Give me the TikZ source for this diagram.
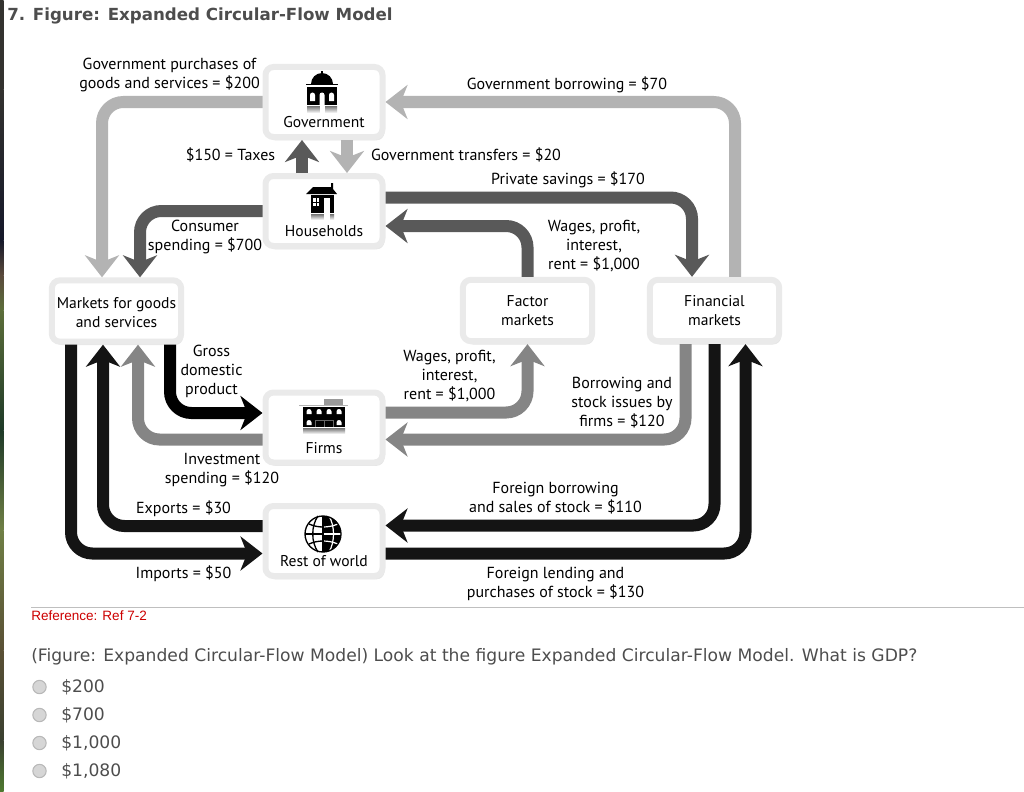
\documentclass[tikz,border=0pt]{standalone}
\usepackage{fontspec}
\setmainfont{PT Sans}
\newfontfamily\headfont{DejaVu Sans}
\newfontfamily\reffont{Liberation Sans}
\usepackage{tikz}
\usetikzlibrary{arrows.meta}
\usetikzlibrary{shadows}
\definecolor{flowlight}{HTML}{B3B3B3}
\definecolor{flowmid}{HTML}{858585}
\definecolor{flowdark}{HTML}{595959}
\definecolor{flowblack}{HTML}{141414}
\definecolor{boxedge}{HTML}{EAEAEA}
\definecolor{pagetext}{HTML}{4D4D4D}
\definecolor{edgea}{HTML}{33322F}
\definecolor{edgeb}{HTML}{15182A}
\definecolor{edgec}{HTML}{5A4A3C}
\definecolor{edged}{HTML}{5C6E3A}
\definecolor{edgee}{HTML}{1E3A28}
\definecolor{edgef}{HTML}{6F7F45}
\definecolor{edgeg}{HTML}{5A5035}
\definecolor{edgeh}{HTML}{3A4030}
\definecolor{edgei}{HTML}{4F7A30}
\tikzset{
	flowbox/.style={draw=boxedge,fill=white,line width=4.5pt,rounded corners=6pt,minimum width=87.75pt,minimum height=52.5pt,inner sep=0pt,align=center,font=\fontsize{11.7}{14.25}\selectfont,drop shadow={shadow xshift=1.5pt,shadow yshift=-2.5pt,opacity=0.1,fill=black}},
	flowlabel/.style={align=center,inner sep=0pt,font=\fontsize{12}{14.25}\selectfont},
	flow/.style={line width=9pt,rounded corners=16pt,-{Stealth[length=16.5pt,width=25.5pt,inset=5pt]}},
	pagelabel/.style={inner sep=0pt,anchor=west,text=pagetext,font=\headfont\fontsize{12.86}{15}\selectfont},
	radio/.style={circle,draw=black!28,fill=black!16,line width=0.8pt,minimum size=10pt,inner sep=0pt}
}
\begin{document}
\begin{tikzpicture}[x=0.75pt,y=-0.75pt]
	\useasboundingbox (0,0) rectangle (1024,792);
	\foreach \ya/\yb/\ca/\cb in {0/90/edgea/edgea,90/240/edgea/edgeb,240/275/edgeb/edgec,275/310/edgec/edged,310/430/edged/edgee,430/530/edgee/edgef,530/650/edgef/edgeg,650/740/edgeg/edgeh,740/792/edgeh/edgei} {
		\shade [top color=\ca,bottom color=\cb] (0,\ya) rectangle (3.5,\yb);
	}
	% boxes
	\node (gov) at (324,102) [flowbox] {\rule{0pt}{24.5pt}\\Government};
	\node (hh) at (324,211) [flowbox] {\rule{0pt}{24.5pt}\\Households};
	\node (mkt) at (116.5,311) [flowbox,minimum width=97pt,minimum height=46pt] {\rule{0pt}{10.5pt}Markets for goods\\and services};
	\node (fac) at (527.5,310.5) [flowbox,minimum width=97pt,minimum height=46pt] {Factor\\markets};
	\node (fin) at (714.5,310.5) [flowbox,minimum width=97pt,minimum height=46pt] {Financial\\markets};
	\node (firm) at (324,427.5) [flowbox] {\rule{0pt}{25.5pt}\\Firms};
	\node (row) at (324,541) [flowbox] {\rule{0pt}{24.5pt}\\Rest of world};
	% flows
	\draw [flow,flowlight] (gov.west) -| (102,0 |- mkt.north);
	\draw [flow,flowlight] (fin.north -| 735,0) |- (gov.east);
	\draw [flow,flowlight] (gov.south -| 347,0) -- (hh.north -| 347,0);
	\draw [flow,flowdark] (hh.north -| 302,0) -- (gov.south -| 302,0);
	\draw [flow,flowdark] (hh.west |- 0,211) -| (140,0 |- mkt.north);
	\draw [flow,flowdark] (hh.east |- 0,197.5) -| (692,0 |- fin.north);
	\draw [flow,flowdark] (fac.north) |- (hh.east |- 0,226);
	\draw [flow,black] (mkt.south -| 170,0) |- (firm.west |- 0,413);
	\draw [flow,flowmid] (firm.west |- 0,439.5) -| (138,0 |- mkt.south);
	\draw [flow,flowmid] (firm.east |- 0,412.5) -| (fac.south);
	\draw [flow,flowmid] (fin.south -| 685.5,0) |- (firm.east |- 0,439.5);
	\draw [flow,flowblack] (row.west |- 0,526) -| (103,0 |- mkt.south);
	\draw [flow,flowblack] (mkt.south -| 71,0) |- (row.west |- 0,553.5);
	\draw [flow,flowblack] (fin.south) |- (row.east |- 0,525.5);
	\draw [flow,flowblack] (row.east |- 0,553.5) -| (745.5,0 |- fin.south);
	% labels
	\node (lpurch) at (169.5,75.5) [flowlabel] {Government purchases of\\goods and services = \$200};
	\node (lborrow) at (567,85) [flowlabel] {Government borrowing = \$70};
	\node (ltaxes) at (230.5,154.5) [flowlabel] {\$150 = Taxes};
	\node (ltrans) at (466,154.5) [flowlabel] {Government transfers = \$20};
	\node (lsave) at (568,180) [flowlabel] {Private savings = \$170};
	\node (lcons) at (205,237) [flowlabel] {Consumer\\spending = \$700};
	\node (lwageup) at (594,246.5) [flowlabel] {Wages, profit,\\interest,\\rent = \$1,000};
	\node (lgdp) at (211.5,371) [flowlabel] {Gross\\domestic\\product};
	\node (lwagelow) at (449.5,376.5) [flowlabel] {Wages, profit,\\interest,\\rent = \$1,000};
	\node (lissue) at (622,403) [flowlabel] {Borrowing and\\stock issues by\\firms = \$120};
	\node (linvest) at (222,470.5) [flowlabel] {Investment\\spending = \$120};
	\node (lexport) at (183.5,508.5) [flowlabel] {Exports = \$30};
	\node (limport) at (183.5,573.5) [flowlabel] {Imports = \$50};
	\node (lforb) at (555.5,498.5) [flowlabel] {Foreign borrowing\\and sales of stock = \$110};
	\node (lforl) at (555.5,583.5) [flowlabel] {Foreign lending and\\purchases of stock = \$130};
	% government icon
	\fill (311,84) arc[start angle=180,end angle=360,radius=11] -- cycle;
	\fill (321.2,71) rectangle (322.8,75);
	\fill (306,84.5) rectangle (338,85.5);
	\fill (307,87) rectangle (337,105);
	\fill [white] (310,101) -- (310,95) arc[start angle=180,end angle=360,radius=2.5] -- (315,101) -- cycle;
	\fill [white] (329,101) -- (329,95) arc[start angle=180,end angle=360,radius=2.5] -- (334,101) -- cycle;
	\fill [white] (319.5,105) -- (319.5,95) arc[start angle=180,end angle=360,radius=2.5] -- (324.5,105) -- cycle;
	\shade [top color=black!55,bottom color=white] (307,106) rectangle (337,113);
	\fill [white] (319.5,106) rectangle (324.5,113);
	% household icon
	\fill (306,194) -- (313,187) -- (331,187) -- (331,183) -- (333,183) -- (333,189) -- (337,194) -- cycle;
	\fill (311,195) rectangle (334,213);
	\fill [white] (313,198) rectangle (319,206);
	\fill (315.6,198) rectangle (316.4,206);
	\fill (313,201.6) rectangle (319,202.4);
	\fill [white] (324,198) rectangle (330,213);
	\shade [top color=black!55,bottom color=white] (311,214) rectangle (334,220);
	\fill [white] (324,214) rectangle (330,220);
	% firm icon
	\fill [black!40] (324,399) rectangle (343,405);
	\fill [black!30] (299,405) rectangle (348,406);
	\fill (303,407) rectangle (345,427);
	\foreach \winx in {309,319,329,339} {
		\fill [white] (\winx-2.5,414) -- (\winx-2.5,411.5) arc[start angle=180,end angle=360,radius=2.5] -- (\winx+2.5,414) -- cycle;
	}
	\foreach \winx in {309,339} {
		\fill [white] (\winx-2.5,425) -- (\winx-2.5,422.5) arc[start angle=180,end angle=360,radius=2.5] -- (\winx+2.5,425) -- cycle;
	}
	\draw [black!60,line width=0.6pt] (315,427) -- (315,420) -- (333,420) -- (333,427) (324,420) -- (324,427);
	\shade [top color=black!55,bottom color=white] (303,428) rectangle (345,434);
	% globe icon
	\begin{scope}
		\clip (323,515) rectangle (342,553);
		\fill (323,534) circle[radius=18];
		\draw [white,line width=0.9pt] (329,516) .. controls (335,526) and (335,542) .. (329,552);
		\draw [white,line width=0.9pt] (309,524) .. controls (318,528) and (328,528) .. (338,524);
		\draw [white,line width=0.9pt] (305,534) -- (341,534);
		\draw [white,line width=0.9pt] (309,544) .. controls (318,540) and (328,540) .. (338,544);
	\end{scope}
	\draw [line width=1pt] (323,534) circle[radius=18];
	\draw [line width=1pt] (318,516) .. controls (311,526) and (311,542) .. (318,552);
	\draw [line width=1pt] (323,516) -- (323,552);
	\begin{scope}
		\clip (305,515) rectangle (323,553);
		\draw [line width=1pt] (309,524) .. controls (318,528) and (328,528) .. (338,524);
		\draw [line width=1pt] (305,534) -- (341,534);
		\draw [line width=1pt] (309,544) .. controls (318,540) and (328,540) .. (338,544);
	\end{scope}
	% page
	\node (ptitle) at (7,16) [pagelabel,font=\headfont\bfseries\fontsize{12.5}{15}\selectfont] {7. Figure: Expanded Circular-Flow Model};
	\coordinate (rulea) at (31,607);
	\coordinate (ruleb) at (1024,607);
	\draw [black!25,line width=0.75pt] (rulea) -- (ruleb);
	\node (pref) at (31,616) [pagelabel,text=red!80!black,font=\reffont\fontsize{10.15}{12}\selectfont] {Reference: Ref 7-2};
	\node (pquest) at (31,657) [pagelabel] {(Figure: Expanded Circular-Flow Model) Look at the figure Expanded Circular-Flow Model. What is GDP?};
	\node (rada) at (39.5,687) [radio] {};
	\node (radb) at (39.5,715) [radio] {};
	\node (radc) at (39.5,743) [radio] {};
	\node (radd) at (39.5,771) [radio] {};
	\node (ansa) at (61,687) [pagelabel] {\$200};
	\node (ansb) at (61,715) [pagelabel] {\$700};
	\node (ansc) at (61,743) [pagelabel] {\$1,000};
	\node (ansd) at (61,771) [pagelabel] {\$1,080};
\end{tikzpicture}
\end{document}
